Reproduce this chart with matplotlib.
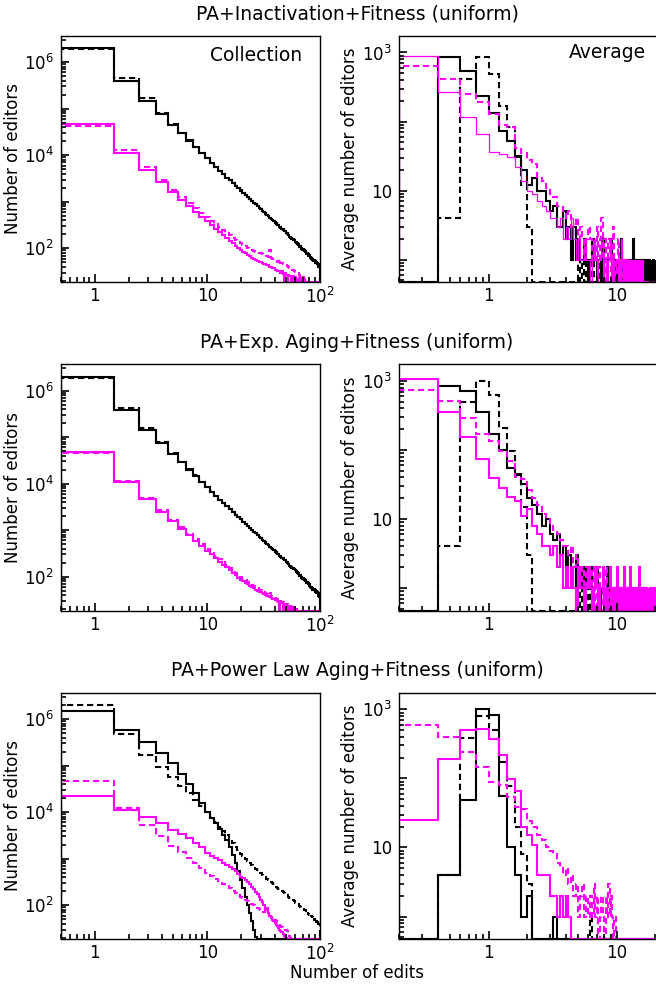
import numpy as np
import matplotlib
matplotlib.use("Agg")
import matplotlib.pyplot as plt
from matplotlib.ticker import FixedLocator, FuncFormatter, LogLocator, NullFormatter

plt.rcParams['font.family'] = ['DejaVu Sans']

# ---------------------------------------------------------------- data
titles = ["PA+Inactivation+Fitness (uniform)",
          "PA+Exp. Aging+Fitness (uniform)",
          "PA+Power Law Aging+Fitness (uniform)"]

# Collection: number of editors with k edits, k = 1, 2, 3, ...
coll_r1_black = [2.0e6, 4.0e5, 1.47e5, 7.6e4, 4.5e4, 2.95e4, 2.05e4, 1.5e4, 1.12e4, 8.6e3,
                 6.8e3, 5.5e3, 4.6e3, 3.9e3, 3.3e3, 2.9e3, 2.5e3, 2.2e3, 1.95e3, 1.74e3,
                 1.56e3, 1.40e3, 1.27e3, 1.15e3, 1.05e3, 960, 880, 810, 750, 695,
                 640, 600, 555, 520, 490, 455, 430, 400, 380, 360,
                 345, 315, 310, 284, 280, 255, 254, 230, 233, 212,
                 212, 193, 194, 176, 178, 162, 160, 149, 153, 139,
                 140, 128, 129, 118, 120, 108, 112, 100, 104, 94,
                 98, 87, 91, 82, 84, 77, 79, 71, 75, 67,
                 71, 63, 67, 59, 64, 55, 60, 53, 56, 49,
                 54, 47, 51, 44, 49, 42, 47, 41, 44, 39]
coll_r1_black_d = [1.9e6, 4.5e5, 1.7e5, 8.0e4, 4.6e4, 3.0e4, 2.08e4, 1.52e4, 1.13e4, 8.7e3,
                   6.9e3, 5.5e3, 4.6e3, 3.9e3, 3.3e3, 2.9e3, 2.5e3, 2.2e3, 1.96e3, 1.75e3,
                   1.57e3, 1.41e3, 1.27e3, 1.16e3, 1.05e3, 965, 885, 815, 750, 700,
                   645, 598, 560, 518, 494, 452, 434, 398, 384, 356,
                   340, 322, 303, 292, 272, 262, 246, 238, 224, 218,
                   204, 200, 186, 182, 170, 170, 156, 156, 145, 144,
                   134, 134, 124, 124, 114, 116, 106, 108, 99, 101,
                   92, 94, 86, 88, 80, 82, 75, 77, 70, 72,
                   66, 67, 62, 63, 58, 59, 55, 56, 51, 53,
                   48, 50, 45, 47, 43, 45, 40, 43, 38, 40]
coll_r1_mag = [4.7e4, 1.14e4, 4.8e3, 2.6e3, 1.6e3, 1.1e3, 800, 610, 470, 380,
               310, 260, 220, 190, 165, 145, 128, 112, 100, 91,
               84, 78, 72, 67, 63, 60, 57, 54, 52, 50,
               48, 46, 45, 43, 43, 40, 40, 38, 38, 35,
               35, 33, 33, 32, 30, 32, 28, 0, 29, 27,
               27, 0, 27, 25, 26, 0, 24, 25, 0, 23,
               24, 0, 22, 0, 21, 23, 0, 0, 20, 0]
coll_r1_mag_d = [4.3e4, 1.3e4, 5.5e3, 2.95e3, 1.8e3, 1.25e3, 920, 720, 575, 470,
                 390, 330, 285, 245, 215, 190, 170, 152, 138, 128,
                 118, 110, 103, 97, 92, 88, 85, 82, 80, 78,
                 75, 72, 70, 68, 66, 90, 62, 60, 58, 56,
                 54, 52, 51, 60, 49, 48, 47, 46, 45, 43,
                 42, 41, 40, 38, 37, 36, 35, 34, 33, 32,
                 31, 30, 30, 29, 28, 27, 0, 26, 25, 0,
                 24, 0, 22, 0, 0, 21, 0, 0, 0, 0]

coll_r2_black = [2.0e6, 3.9e5, 1.45e5, 7.5e4, 4.4e4, 2.9e4, 2.0e4, 1.48e4, 1.1e4, 8.5e3,
                 6.7e3, 5.4e3, 4.5e3, 3.8e3, 3.25e3, 2.8e3, 2.45e3, 2.15e3, 1.9e3, 1.7e3,
                 1.52e3, 1.37e3, 1.24e3, 1.12e3, 1.02e3, 935, 860, 790, 730, 675,
                 625, 585, 540, 508, 476, 444, 418, 390, 370, 350,
                 336, 306, 302, 276, 272, 248, 247, 224, 226, 206,
                 206, 188, 188, 171, 173, 157, 155, 145, 148, 135,
                 136, 124, 125, 114, 116, 105, 108, 97, 100, 91,
                 95, 84, 88, 79, 81, 74, 76, 69, 72, 65,
                 68, 61, 64, 57, 61, 53, 58, 51, 54, 47,
                 52, 45, 49, 42, 47, 40, 45, 39, 42, 37]
coll_r2_black_d = [1.9e6, 4.3e5, 1.6e5, 7.9e4, 4.5e4, 2.95e4, 2.05e4, 1.5e4, 1.11e4, 8.6e3,
                   6.8e3, 5.4e3, 4.5e3, 3.8e3, 3.25e3, 2.8e3, 2.45e3, 2.15e3, 1.9e3, 1.7e3,
                   1.53e3, 1.38e3, 1.24e3, 1.13e3, 1.02e3, 940, 860, 795, 730, 680,
                   628, 582, 545, 504, 480, 440, 422, 387, 374, 346,
                   330, 314, 295, 284, 264, 255, 239, 232, 218, 212,
                   198, 195, 181, 177, 165, 165, 152, 152, 141, 140,
                   130, 130, 121, 120, 111, 113, 103, 105, 96, 98,
                   89, 91, 84, 85, 78, 80, 73, 75, 68, 70,
                   64, 65, 60, 61, 56, 57, 53, 54, 50, 51,
                   47, 48, 44, 46, 42, 43, 39, 41, 37, 39]
coll_r2_mag = [4.8e4, 1.1e4, 4.6e3, 2.5e3, 1.55e3, 1.05e3, 770, 590, 455, 365,
               300, 250, 212, 182, 158, 139, 122, 108, 96, 87,
               80, 74, 68, 63, 59, 56, 53, 50, 48, 46,
               44, 42, 41, 39, 38, 36, 35, 34, 33, 32,
               31, 30, 29, 0, 28, 27, 0, 26, 25, 0,
               24, 24, 0, 23, 22, 0, 22, 0, 21, 0,
               0, 20, 0, 0, 0, 0, 0, 0, 0, 0]
coll_r2_mag_d = [4.6e4, 1.15e4, 5.0e3, 2.7e3, 1.65e3, 1.15e3, 830, 640, 500, 400,
                 330, 275, 235, 202, 175, 153, 136, 121, 108, 98,
                 90, 83, 77, 72, 67, 63, 59, 56, 53, 51,
                 49, 47, 45, 43, 41, 44, 39, 37, 36, 35,
                 34, 33, 32, 34, 30, 29, 28, 27, 27, 0,
                 26, 25, 0, 24, 23, 0, 22, 22, 0, 21,
                 0, 20, 0, 0, 19, 0, 0, 0, 0, 0]

coll_r3_black = [1.5e6, 5.9e5, 3.2e5, 1.87e5, 1.12e5, 6.5e4, 4.0e4, 2.6e4, 1.6e4, 1.0e4,
                 7.4e3, 5.8e3, 4.4e3, 3.3e3, 2.5e3, 1.75e3, 1.2e3, 800, 540, 350,
                 230, 150, 100, 68, 45, 30, 21, 0, 0, 0]
coll_r3_black_d = [2.0e6, 4.8e5, 1.7e5, 9.3e4, 5.6e4, 3.6e4, 2.6e4, 1.85e4, 1.35e4, 1.0e4,
                   7.8e3, 6.2e3, 4.9e3, 3.9e3, 3.2e3, 2.6e3, 2.15e3, 1.8e3, 1.5e3, 1.28e3,
                   1.12e3, 990, 880, 800, 730, 660, 610, 560, 520, 485,
                   450, 420, 395, 370, 350, 330, 310, 295, 280, 265,
                   252, 240, 228, 218, 208, 200, 190, 184, 176, 170,
                   162, 158, 150, 146, 140, 136, 130, 127, 122, 119,
                   114, 112, 106, 105, 99, 98, 93, 92, 87, 87,
                   82, 82, 77, 78, 72, 74, 68, 70, 64, 66,
                   61, 63, 57, 60, 54, 57, 51, 54, 48, 52,
                   46, 49, 44, 47, 42, 45, 40, 43, 38, 42]
coll_r3_mag = [2.2e4, 1.12e4, 7.8e3, 5.8e3, 4.2e3, 3.4e3, 2.8e3, 2.2e3, 1.75e3, 1.3e3,
               1.15e3, 1.02e3, 920, 820, 740, 670, 600, 530, 470, 410,
               375, 345, 310, 280, 250, 220, 195, 170, 150, 130,
               115, 100, 88, 77, 68, 60, 54, 49, 45, 42,
               38, 35, 32, 30, 28, 26, 24, 22, 21, 20,
               19, 20, 19, 0, 19, 0, 0, 0, 0, 0]
coll_r3_mag_d = [4.6e4, 1.25e4, 5.4e3, 3.0e3, 1.9e3, 1.4e3, 1.05e3, 800, 620, 490,
                 420, 370, 330, 290, 255, 230, 205, 185, 165, 150,
                 140, 130, 122, 115, 108, 100, 95, 88, 84, 80,
                 75, 72, 90, 85, 66, 60, 56, 52, 50, 48,
                 45, 42, 40, 38, 36, 34, 32, 31, 30, 30,
                 28, 26, 24, 22, 20, 19, 0, 19, 0, 0,
                 0, 19, 0, 0, 0, 0, 0, 0, 0, 0]

# Average: average number of editors per bin of width 0.2, first bin [0.2, 0.4)
avg_r1_black = [0, 870, 547, 235, 131, 74, 53, 31, 20, 12,
                15, 10, 10, 7, 5, 6, 3, 3, 5, 2,
                3, 1, 3, 1, 2, 1, 1, 2, 1, 0,
                1, 2, 1, 1, 0, 1, 1, 0, 2, 1,
                1, 0, 1, 1, 2, 0, 1, 1, 0, 1,
                1, 0, 1, 2, 1, 0, 1, 1, 0, 1,
                0, 1, 1, 0, 1, 0, 2, 1, 0, 1,
                1, 0, 1, 0, 1, 1, 0, 1, 0, 1,
                0, 1, 1, 0, 1, 0, 1, 0, 1, 1,
                0, 1, 0, 1, 0, 1, 1, 0, 1]
avg_r1_black_d = [0, 4, 415, 850, 480, 170, 83, 32, 12, 3,
                  0, 0, 0, 0, 0, 0, 0, 0, 0, 0,
                  0, 0, 0, 0, 1, 0, 1, 0, 1, 0,
                  0, 1, 0, 0, 0, 0, 1, 0, 0, 0]
avg_r1_mag = [897, 268, 115, 66, 36, 34, 31, 22, 14, 10,
              9, 7, 6, 5, 4, 4, 3, 4, 2, 3,
              2, 4, 2, 1, 2, 1, 1, 2, 1, 1,
              0, 1, 2, 1, 0, 1, 1, 2, 0, 1,
              1, 0, 1, 2, 1, 0, 1, 0, 1, 1,
              0, 1, 0, 2, 1, 0, 1, 0, 1, 0,
              1, 0, 1, 1, 0, 1, 0, 1, 0, 0,
              1, 0, 1, 0, 0, 1, 0, 0, 1, 0]
avg_r1_mag_d = [645, 415, 248, 193, 128, 89, 83, 41, 35, 28,
                24, 16, 14, 11, 9, 8, 6, 6, 5, 4,
                5, 3, 3, 4, 2, 3, 2, 1, 2, 3,
                2, 1, 2, 1, 3, 1, 2, 4, 1, 2,
                0, 1, 2, 1, 0, 1, 3, 1, 0, 1,
                2, 0, 1, 0, 1, 0, 1, 0, 0, 1]

avg_r2_black = [0, 850, 720, 353, 173, 100, 55, 43, 32, 20,
                16, 12, 8, 10, 6, 5, 6, 3, 4, 2,
                3, 2, 1, 3, 1, 2, 1, 2, 1, 1,
                2, 0, 1, 1, 2, 1, 0, 1, 1, 0,
                1, 2, 1, 0, 1, 1, 0, 1, 0, 1,
                1, 0, 1, 0, 1, 1, 0, 1, 0, 1,
                0, 1, 1, 0, 1, 0, 1, 0, 1, 0,
                1, 0, 1, 1, 0, 1, 0, 1, 0, 1]
avg_r2_black_d = [0, 4, 490, 1000, 630, 210, 97, 45, 15, 3,
                  0, 0, 0, 0, 0, 0, 0, 0, 0, 0,
                  0, 0, 0, 1, 0, 1, 0, 0, 1, 0,
                  1, 0, 0, 1, 0, 0, 0, 0, 0, 0]
avg_r2_mag = [1050, 353, 155, 74, 39, 28, 21, 18, 11, 14,
              8, 6, 4, 4, 3, 4, 2, 3, 1, 2,
              1, 2, 1, 0, 2, 1, 1, 0, 1, 2,
              1, 0, 1, 2, 1, 0, 1, 1, 2, 0,
              1, 0, 1, 2, 1, 0, 1, 0, 1, 2,
              0, 1, 1, 0, 1, 0, 2, 1, 0, 1,
              1, 0, 1, 2, 0, 1, 0, 1, 1, 0,
              1, 0, 1, 0, 2, 1, 0, 1, 0, 1,
              0, 1, 1, 0, 1, 0, 1, 0, 1, 0,
              1, 0, 1, 1, 0, 1, 0, 1, 1]
avg_r2_mag_d = [746, 507, 293, 170, 136, 97, 70, 41, 38, 26,
                20, 16, 12, 10, 8, 7, 6, 5, 4, 4,
                3, 4, 2, 3, 2, 1, 2, 1, 2, 1,
                1, 2, 1, 0, 1, 2, 1, 1, 0, 1,
                2, 1, 0, 1, 0, 1, 0, 1, 1, 0]

avg_r3_black = [0, 4, 49, 1000, 835, 56, 10, 4, 1, 2,
                0, 0, 0, 0, 0, 1, 0, 0, 0, 0]
avg_r3_black_d = [0, 4, 380, 790, 495, 171, 78, 20, 8, 3,
                  0, 0, 0, 0, 0, 0, 0, 0, 0, 0,
                  0, 0, 0, 0, 0, 0, 0, 0, 0, 0,
                  1, 0, 0, 0, 0, 0, 0, 0, 0, 0]
avg_r3_mag = [25, 190, 495, 520, 367, 215, 98, 66, 20, 15,
              11, 4, 4, 4, 2, 2, 1, 2, 1, 2,
              1, 0, 0, 0, 0, 0, 0, 0, 0, 0]
avg_r3_mag_d = [596, 395, 240, 145, 88, 81, 53, 38, 36, 24,
                20, 15, 13, 10, 9, 8, 6, 5, 4, 5,
                3, 4, 2, 3, 1, 2, 3, 1, 2, 1,
                2, 1, 3, 1, 2, 0, 1, 2, 1, 0,
                2, 1, 3, 1, 2, 1, 0, 1, 0, 0,
                0, 0, 0, 0, 0, 0, 0, 0, 0, 0]

collection = [
    (coll_r1_black, coll_r1_black_d, coll_r1_mag, coll_r1_mag_d),
    (coll_r2_black, coll_r2_black_d, coll_r2_mag, coll_r2_mag_d),
    (coll_r3_black, coll_r3_black_d, coll_r3_mag, coll_r3_mag_d),
]
average = [
    (avg_r1_black, avg_r1_black_d, avg_r1_mag, avg_r1_mag_d),
    (avg_r2_black, avg_r2_black_d, avg_r2_mag, avg_r2_mag_d),
    (avg_r3_black, avg_r3_black_d, avg_r3_mag, avg_r3_mag_d),
]
thin_avg_mag = [True, False, False]

# ---------------------------------------------------------------- styling
MAG = '#ff00ff'
LW = 1.5
DASH = (0, (3.0, 1.8))
COLL_FLOOR, COLL_TOP = 18.6, 3.7e6
AVG_FLOOR, AVG_TOP = 0.47, 1750
COLL_N = 100
AVG_N = 99

W, H = 656.0, 984.0
fig = plt.figure(figsize=(W / 100, H / 100), dpi=100)


def axes_px(x0, y0, x1, y1):
    return fig.add_axes([x0 / W, 1 - y1 / H, (x1 - x0) / W, (y1 - y0) / H])


def decade_label(v, labelled):
    e = int(round(np.log10(v)))
    if e not in labelled:
        return ''
    if e == 0:
        return '1'
    if e == 1:
        return '10'
    return r'$10^{%d}$' % e


def style_axes(ax, ylab, ydecades, ylabelled, xdecades, xlabelled, labelpad):
    ax.set_xscale('log')
    ax.set_yscale('log')
    ax.yaxis.set_major_locator(FixedLocator([10.0 ** e for e in ydecades]))
    ax.yaxis.set_major_formatter(FuncFormatter(lambda v, p: decade_label(v, ylabelled)))
    ax.yaxis.set_minor_locator(LogLocator(base=10, subs=np.arange(2, 10), numticks=50))
    ax.yaxis.set_minor_formatter(NullFormatter())
    ax.xaxis.set_major_locator(FixedLocator([10.0 ** e for e in xdecades]))
    ax.xaxis.set_major_formatter(FuncFormatter(lambda v, p: decade_label(v, xlabelled)))
    ax.xaxis.set_minor_locator(LogLocator(base=10, subs=np.arange(2, 10), numticks=50))
    ax.xaxis.set_minor_formatter(NullFormatter())
    ax.tick_params(which='both', direction='in', top=False, right=False,
                   labelsize=12, width=1.2)
    ax.tick_params(axis='y', pad=5)
    ax.tick_params(axis='x', pad=3.5)
    ax.tick_params(which='major', length=6)
    ax.tick_params(which='minor', length=3.5)
    for s in ax.spines.values():
        s.set_linewidth(1.0)
    ax.set_ylabel(ylab, fontsize=12, labelpad=labelpad)


def step_hist(ax, edges, vals, floor, color, ls, lw):
    v = np.maximum(np.asarray(vals, dtype=float), floor)
    ax.stairs(v, edges, baseline=floor, color=color, linestyle=ls, linewidth=lw)


def padded(vals, n):
    out = np.zeros(n)
    out[:len(vals)] = vals
    return out


row_tops = [35.7, 364.1, 692.6]
row_h = 246.6
title_y = [14, 342, 670]

coll_edges = np.arange(COLL_N + 1) + 0.5
avg_edges = 0.2 * (np.arange(AVG_N + 1) + 1)

for r in range(3):
    top = row_tops[r]
    bot = top + row_h

    # left: collection
    ax = axes_px(60.7, top, 320.0, bot)
    bk, bkd, mg, mgd = collection[r]
    step_hist(ax, coll_edges, padded(bk, COLL_N), COLL_FLOOR, 'black', '-', LW)
    step_hist(ax, coll_edges, padded(bkd, COLL_N), COLL_FLOOR, 'black', DASH, LW)
    step_hist(ax, coll_edges, padded(mg, COLL_N), COLL_FLOOR, MAG, '-', LW)
    step_hist(ax, coll_edges, padded(mgd, COLL_N), COLL_FLOOR, MAG, DASH, LW)
    ax.set_xlim(0.5, 100)
    ax.set_ylim(COLL_FLOOR, COLL_TOP)
    style_axes(ax, 'Number of editors', range(1, 8), {2, 4, 6}, range(-1, 3), {0, 1, 2}, 1)
    if r == 0:
        ax.text(0.93, 0.92, 'Collection', transform=ax.transAxes, ha='right',
                va='center', fontsize=13.5)

    # right: average
    ax = axes_px(399.0, top, 658.0, bot)
    bk, bkd, mg, mgd = average[r]
    step_hist(ax, avg_edges, padded(bk, AVG_N), AVG_FLOOR, 'black', '-', LW)
    step_hist(ax, avg_edges, padded(bkd, AVG_N), AVG_FLOOR, 'black', DASH, LW)
    step_hist(ax, avg_edges, padded(mg, AVG_N), AVG_FLOOR, MAG, '-',
              0.9 if thin_avg_mag[r] else LW)
    step_hist(ax, avg_edges, padded(mgd, AVG_N), AVG_FLOOR, MAG, DASH, LW)
    ax.set_xlim(0.2, 21)
    ax.set_ylim(AVG_FLOOR, AVG_TOP)
    style_axes(ax, 'Average number of editors', range(0, 4), {1, 3}, range(-1, 2), {0, 1}, 2)
    if r == 0:
        ax.text(0.955, 0.93, 'Average', transform=ax.transAxes, ha='right',
                va='center', fontsize=13.5)

    fig.text(357 / W, 1 - title_y[r] / H, titles[r], ha='center', va='center', fontsize=13.5)

fig.text(357 / W, 1 - 973 / H, 'Number of edits', ha='center', va='center', fontsize=12)

fig.savefig('out.png', dpi=100)
